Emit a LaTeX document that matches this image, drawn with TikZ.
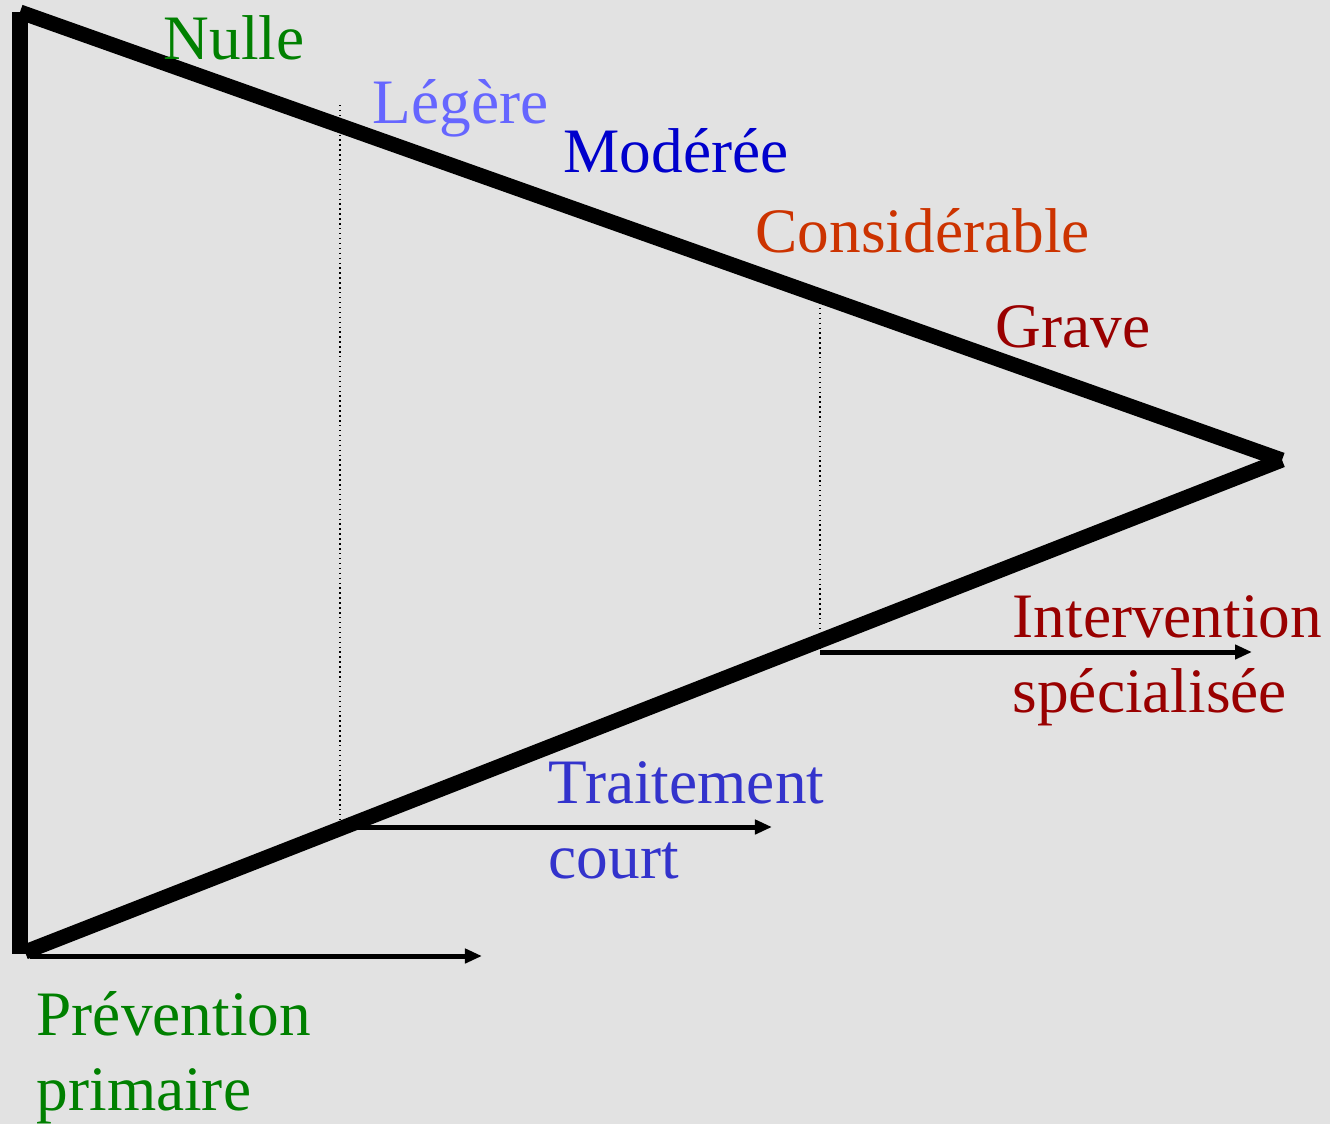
\documentclass[tikz,border=0pt]{standalone}
\usepackage{fontspec}
\setmainfont{Liberation Serif}
\usetikzlibrary{arrows.meta}

\definecolor{bggray}{RGB}{226,226,226}
\definecolor{nulgreen}{RGB}{0,128,0}
\definecolor{legblue}{RGB}{102,102,255}
\definecolor{modblue}{RGB}{0,0,204}
\definecolor{conorange}{RGB}{204,51,0}
\definecolor{gravred}{RGB}{153,0,0}
\definecolor{traitblue}{RGB}{51,51,204}

\begin{document}
\begin{tikzpicture}[x=0.01cm, y=-0.01cm,
    bigline/.style={line width=0.15cm, line cap=butt},
    levelarrow/.style={line width=0.05cm, -{Triangle[length=0.17cm, width=0.14cm]}},
    cutline/.style={line width=0.4pt, densely dotted},
    label/.style={anchor=base west, inner sep=0pt, align=left,
        font=\fontsize{18}{21.3}\selectfont}]

    % --- Background ---
    \fill[bggray] (0,0) rectangle (1330,1124);
    \useasboundingbox (0,0) rectangle (1330,1124);

    % --- Coordinates ---
    \coordinate (TL) at (20,12);      % top-left vertex
    \coordinate (BL) at (20,954);     % bottom-left vertex
    \coordinate (BR) at (25,952);     % start of lower side
    \coordinate (A)  at (1282,460);   % apex on the right

    % Points where the cuts meet the sides
    \coordinate (C1t) at (340,105);
    \coordinate (C1b) at (340,822);
    \coordinate (C2t) at (820,298);
    \coordinate (C2b) at (820,652);

    % Arrow ends
    \coordinate (P0) at (30,956);
    \coordinate (P1) at (482,956);
    \coordinate (T0) at (355,827);
    \coordinate (T1) at (772,827);
    \coordinate (I1) at (1252,652);

    % --- Cuts ---
    \draw[cutline] (C1t) -- (C1b);
    \draw[cutline] (C2t) -- (C2b);

    % --- Triangle ---
    \draw[bigline] (TL) -- (BL);
    \draw[bigline] (TL) -- (A);
    \draw[bigline] (BR) -- (A);

    % --- Arrows ---
    \draw[levelarrow] (P0) -- (P1);
    \draw[levelarrow] (T0) -- (T1);
    \draw[levelarrow] (C2b) -- (I1);

    % --- Severity labels ---
    \node[label, text=nulgreen]  (nulle)        at (163,60)  {Nulle};
    \node[label, text=legblue]   (legere)       at (372,123) {Légère};
    \node[label, text=modblue]   (moderee)      at (563,172) {Modérée};
    \node[label, text=conorange] (considerable) at (755,252) {Considérable};
    \node[label, text=gravred]   (grave)        at (995,347) {Grave};

    % --- Intervention labels (base = last line) ---
    \node[label, text=gravred]   (specialisee)  at (1012,712)  {Intervention\\spécialisée};
    \node[label, text=traitblue] (traitement)   at (548,878)   {Traitement\\court};
    \node[label, text=nulgreen]  (prevention)   at (36,1110)   {Prévention\\primaire};

\end{tikzpicture}
\end{document}
